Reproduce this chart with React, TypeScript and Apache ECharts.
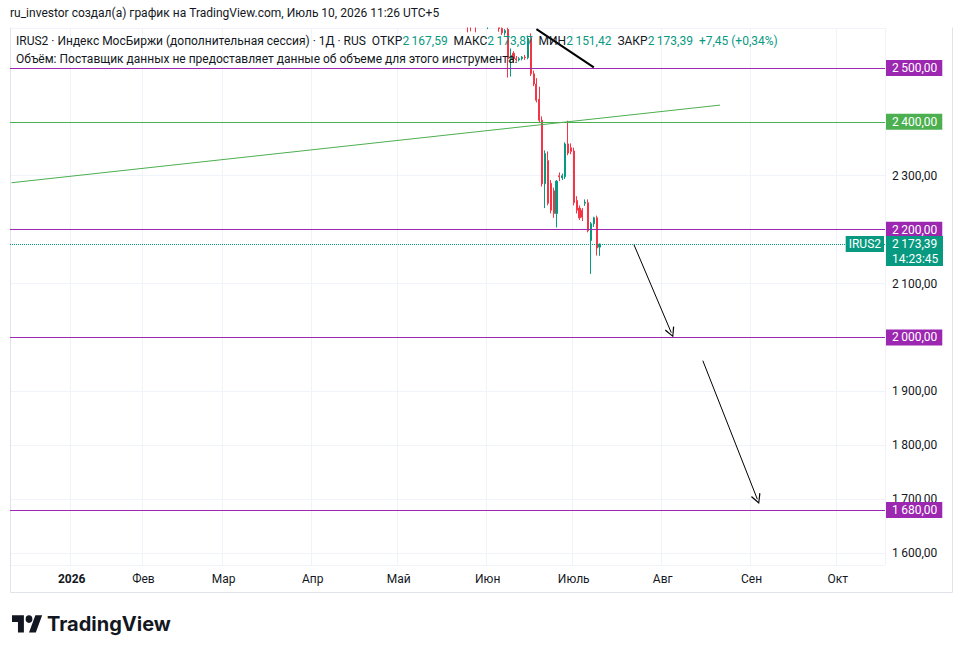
import { useEffect, useRef } from 'react';
import * as echarts from 'echarts';

// ---------- styling constants ----------
const TEXT = '#131722';
const UP = '#089981';
const DOWN = '#f23645';
const PURPLE = '#9c27b0';
const GREEN_LINE = '#4caf50';
const GRID = '#f0f3fa';
const BORDER = '#e0e3eb';
const AXIS_FONT = 'Roboto, "Noto Sans", sans-serif';
const HEAD_FONT = 'Roboto, "Noto Sans", sans-serif';

// ---------- axis / calendar ----------
const MONTH_NAMES = ['Янв', 'Фев', 'Мар', 'Апр', 'Май', 'Июн', 'Июль', 'Авг', 'Сен', 'Окт', 'Ноя', 'Дек'];
const YEAR_LABEL = '2026';
const AXIS_FIRST_DAY = '2025-12-11';
const AXIS_LAST_DAY = '2026-10-17';
const NON_SESSION_DAYS = ['2026-01-01', '2026-01-02', '2026-01-03', '2026-01-04', '2026-01-05', '2026-01-06'];
const Y_MIN = 1578;
const Y_MAX = 2574;
const Y_STEP = 100;

// ---------- candles (IRUS2, 1D) ----------
const candleDates = [
  '2026-05-22', '2026-05-23', '2026-05-24', '2026-05-25', '2026-05-26', '2026-05-27', '2026-05-28', '2026-05-29', '2026-05-30', '2026-05-31',
  '2026-06-01', '2026-06-02', '2026-06-03', '2026-06-04', '2026-06-05', '2026-06-06', '2026-06-07', '2026-06-08', '2026-06-09', '2026-06-10',
  '2026-06-11', '2026-06-12', '2026-06-13', '2026-06-14', '2026-06-15', '2026-06-16', '2026-06-17', '2026-06-18', '2026-06-19', '2026-06-20',
  '2026-06-21', '2026-06-22', '2026-06-23', '2026-06-24', '2026-06-25', '2026-06-26', '2026-06-27', '2026-06-28', '2026-06-29', '2026-06-30',
  '2026-07-01', '2026-07-02', '2026-07-03', '2026-07-04', '2026-07-05', '2026-07-06', '2026-07-07', '2026-07-08', '2026-07-09', '2026-07-10',
];
const opens = [
  2640, 2626, 2606, 2612, 2588, 2584, 2596, 2589, 2586, 2597,
  2586, 2596, 2607, 2602, 2594, 2573, 2565, 2571, 2517, 2527,
  2517, 2515, 2517, 2520, 2519, 2555, 2489, 2470, 2442, 2403,
  2285, 2328, 2286, 2272, 2230, 2300, 2296, 2298, 2359, 2352,
  2346, 2254, 2240, 2236, 2249, 2250, 2180, 2211, 2222, 2167.59,
];
const highs = [
  2652, 2634, 2618, 2620, 2598, 2604, 2603, 2596, 2601, 2607,
  2600, 2612, 2618, 2610, 2600, 2580, 2572, 2575, 2536, 2531,
  2522, 2520, 2522, 2524, 2560, 2564, 2495, 2481, 2465, 2410,
  2347, 2345, 2292, 2278, 2292, 2306, 2304, 2362, 2402, 2360,
  2352, 2262, 2245, 2240, 2256, 2256, 2214, 2224, 2226, 2173.87,
];
const lows = [
  2618, 2600, 2594, 2566, 2568, 2580, 2566, 2580, 2582, 2584,
  2572, 2590, 2596, 2590, 2567, 2561, 2560, 2482, 2484, 2510,
  2512, 2512, 2514, 2515, 2516, 2485, 2466, 2436, 2398, 2280,
  2240, 2245, 2230, 2222, 2204, 2290, 2292, 2294, 2338, 2340,
  2245, 2230, 2218, 2216, 2244, 2195, 2118, 2205, 2152, 2151.42,
];
const closes = [
  2626, 2606, 2612, 2588, 2584, 2596, 2589, 2586, 2597, 2587,
  2596, 2607, 2602, 2594, 2573, 2565, 2569, 2517, 2523, 2517,
  2515, 2517, 2520, 2519, 2555, 2489, 2470, 2440, 2403, 2285,
  2341, 2249, 2236, 2230, 2290, 2298, 2300, 2359, 2342, 2345,
  2250, 2236, 2222, 2223, 2251, 2198, 2211, 2222, 2166, 2173.39,
];
const prevClose = 2165.94;
const countdown = '14:23:45';
const symbolName = 'IRUS2';

// ---------- drawings ----------
const purpleLevels = [2500, 2200, 2000, 1680];
const greenLevel = 2400;
const greenTrend: [string, number][] = [['2025-12-11', 2287], ['2026-08-21', 2431]];
const blackTrend: [string, number][] = [['2026-06-18', 2572], ['2026-07-08', 2501]];
const arrowLines: [string, number][][] = [
  [['2026-07-22', 2172], ['2026-08-04', 2009]],
  [['2026-08-15', 1957], ['2026-09-03', 1700]],
];

// ---------- texts ----------
const authorLine = 'ru_investor создал(а) график на TradingView.com, Июль 10, 2026 11:26 UTC+5';
const titleText = 'IRUS2 · Индекс МосБиржи (дополнительная сессия) · 1Д · RUS';
const volumeText = 'Объём: Поставщик данных не предоставляет данные об объеме для этого инструмента.';

const TV_LOGO_PATH =
  'M14 22H7V11H0V4h14v18zM28 22h-8l7.5-18h8L28 22zM16 8a4 4 0 1 0 8 0a4 4 0 1 0 -8 0z';
echarts.graphic.registerShape('tvlogo', echarts.graphic.extendPath(TV_LOGO_PATH, {}) as any);

function fmt(v: number): string {
  const [i, d] = v.toFixed(2).split('.');
  return i.replace(/\B(?=(\d{3})+(?!\d))/g, '\u2009') + ',' + d;
}
function fmtSigned(v: number): string {
  return (v >= 0 ? '+' : '−') + fmt(Math.abs(v));
}

function buildCategories(): string[] {
  const out: string[] = [];
  const d = new Date(AXIS_FIRST_DAY + 'T00:00:00Z');
  const end = new Date(AXIS_LAST_DAY + 'T00:00:00Z');
  while (d.getTime() <= end.getTime()) {
    const s = d.toISOString().slice(0, 10);
    if (NON_SESSION_DAYS.indexOf(s) < 0) out.push(s);
    d.setUTCDate(d.getUTCDate() + 1);
  }
  return out;
}

export default function App() {
  const ref = useRef<HTMLDivElement>(null);

  useEffect(() => {
    if (!ref.current) return;
    const chart = echarts.init(ref.current, undefined, { renderer: 'svg' });
    const categories = buildCategories();

    const isLabelDay = (value: string, index: number) => {
      if (value.slice(8) === '01') return true;
      const prev = categories[index - 1];
      return index > 0 && !!prev && value.slice(0, 4) !== prev.slice(0, 4);
    };

    const candleData = candleDates.map((d, i) => [d, opens[i], closes[i], lows[i], highs[i]]);
    const n = closes.length;
    const lastClose = closes[n - 1];
    const change = lastClose - prevClose;
    const changePct = (change / prevClose) * 100;

    const tagLabel = (v: number, bg: string) => ({
      show: true,
      position: 'end',
      distance: 1,
      formatter: fmt(v),
      color: '#ffffff',
      backgroundColor: bg,
      padding: [2, 5, 1, 6],
      fontSize: 12,
      lineHeight: 13,
      fontFamily: AXIS_FONT,
    });

    const arrowHead = 'path://M5,0 L10,9 L9,9.8 L5,2.2 L1,9.8 L0,9 Z';

    const markData: any[] = [
      ...purpleLevels.map((v) => ({
        yAxis: v,
        lineStyle: { color: PURPLE, width: 1, type: 'solid' },
        label: tagLabel(v, PURPLE),
      })),
      {
        yAxis: greenLevel,
        lineStyle: { color: GREEN_LINE, width: 1, type: 'solid' },
        label: tagLabel(greenLevel, GREEN_LINE),
      },
      {
        yAxis: lastClose,
        lineStyle: { color: UP, width: 1, type: 'dotted' },
        label: {
          show: true,
          position: 'end',
          distance: 1,
          formatter: '{s| }\n{a|' + fmt(lastClose) + '}\n{b|' + countdown + '}',
          rich: {
            s: { height: 14, lineHeight: 14, fontSize: 12 },
            a: {
              backgroundColor: UP, color: '#fff', fontSize: 12, fontFamily: AXIS_FONT,
              width: 46, height: 16, lineHeight: 16, padding: [0, 5, 0, 6],
            },
            b: {
              backgroundColor: UP, color: '#fff', fontSize: 12, fontFamily: AXIS_FONT,
              width: 46, height: 14, lineHeight: 14, padding: [0, 5, 0, 6],
            },
          },
        },
      },
      {
        yAxis: lastClose,
        lineStyle: { color: 'rgba(0,0,0,0)', width: 1, type: 'solid' },
        label: {
          show: true,
          position: 'insideEnd',
          distance: 1,
          formatter: symbolName,
          color: '#fff',
          backgroundColor: UP,
          padding: [2, 3, 1, 3],
          fontSize: 12,
          lineHeight: 13,
          fontFamily: AXIS_FONT,
        },
      },
      [
        { coord: greenTrend[0], symbol: 'none', lineStyle: { color: GREEN_LINE, width: 1, type: 'solid' }, label: { show: false } },
        { coord: greenTrend[1], symbol: 'none' },
      ],
      [
        { coord: blackTrend[0], symbol: 'none', lineStyle: { color: '#000000', width: 2, type: 'solid' }, label: { show: false } },
        { coord: blackTrend[1], symbol: 'none' },
      ],
      ...arrowLines.map((pts) => [
        { coord: pts[0], symbol: 'none', lineStyle: { color: '#000000', width: 1, type: 'solid' }, label: { show: false } },
        { coord: pts[1], symbol: arrowHead, symbolSize: [10, 10] },
      ]),
    ];

    const option: any = {
      animation: false,
      backgroundColor: '#ffffff',
      grid: { left: 10, right: 76, top: 28, bottom: 89, containLabel: false },
      xAxis: {
        type: 'category',
        data: categories,
        boundaryGap: true,
        axisLine: { show: false },
        axisTick: { show: false },
        axisLabel: {
          interval: (index: number, value: string) => isLabelDay(value, index),
          formatter: (value: string) => {
            const m = parseInt(value.slice(5, 7), 10) - 1;
            if (m === 0) return '{y|' + YEAR_LABEL + '}';
            return MONTH_NAMES[m];
          },
          color: TEXT,
          fontSize: 12,
          fontFamily: AXIS_FONT,
          margin: 8,
          rich: { y: { fontWeight: 'bold', fontSize: 12, color: TEXT, fontFamily: AXIS_FONT } },
        },
        splitLine: {
          show: true,
          interval: (index: number, value: string) => isLabelDay(value, index),
          lineStyle: { color: GRID, width: 1 },
        },
      },
      yAxis: {
        type: 'value',
        position: 'right',
        min: Y_MIN,
        max: Y_MAX,
        splitNumber: 10,
        minInterval: Y_STEP,
        maxInterval: Y_STEP,
        axisLine: { show: false },
        axisTick: { show: false },
        axisLabel: {
          showMinLabel: false,
          showMaxLabel: false,
          formatter: (v: number) => fmt(v),
          color: TEXT,
          fontSize: 12,
          fontFamily: AXIS_FONT,
          margin: 7,
        },
        splitLine: { show: true, lineStyle: { color: GRID, width: 1 } },
      },
      series: [
        {
          type: 'candlestick',
          data: candleData,
          encode: { x: 0, y: [1, 2, 3, 4] },
          barWidth: 1.6,
          clip: true,
          itemStyle: {
            color: UP,
            color0: DOWN,
            borderColor: UP,
            borderColor0: DOWN,
            borderWidth: 1,
          },
          markLine: {
            silent: true,
            animation: false,
            symbol: ['none', 'none'],
            precision: 2,
            data: markData,
          },
        },
      ],
      graphic: [
        {
          // page area above the chart pane: hides the parts of candles above the price scale
          type: 'rect',
          shape: { x: 0, y: 0, width: 961, height: 27.5 },
          style: { fill: '#ffffff' },
          silent: true,
          z: 50,
        },
        {
          type: 'polyline',
          shape: { points: [[10.5, 27], [10.5, 592.5], [952.5, 592.5], [952.5, 27]] },
          style: { fill: 'none', stroke: BORDER, lineWidth: 1 },
          silent: true,
          z: 1,
        },
        {
          type: 'text',
          x: 10,
          y: 13,
          style: { text: authorLine, fill: TEXT, fontSize: 12, fontFamily: HEAD_FONT, verticalAlign: 'middle' },
          z: 100,
        },
        {
          type: 'text',
          x: 16,
          y: 41,
          style: {
            text:
              titleText +
              '  ОТКР{g|' + fmt(opens[n - 1]) + '}  МАКС{g|' + fmt(highs[n - 1]) + '}  МИН{g|' + fmt(lows[n - 1]) +
              '}  ЗАКР{g|' + fmt(lastClose) + '}  {g|' + fmtSigned(change) + ' (' + (changePct >= 0 ? '+' : '') +
              changePct.toFixed(2).replace('.', ',') + '%)}',
            fill: TEXT,
            fontSize: 12,
            fontFamily: HEAD_FONT,
            verticalAlign: 'middle',
            rich: { g: { fill: UP, fontSize: 12, fontFamily: HEAD_FONT } },
          },
          z: 100,
        },
        {
          type: 'text',
          x: 16,
          y: 59,
          style: { text: volumeText, fill: TEXT, fontSize: 12, fontFamily: HEAD_FONT, verticalAlign: 'middle' },
          z: 100,
        },
        {
          type: 'tvlogo',
          x: 12,
          y: 611.5,
          scaleX: 0.85,
          scaleY: 0.95,
          style: { fill: TEXT },
          z: 100,
        },
        {
          type: 'text',
          x: 47,
          y: 624,
          style: {
            text: 'TradingView',
            fill: TEXT,
            fontSize: 20,
            fontWeight: 'bold',
            fontFamily: 'Inter, "Noto Sans", sans-serif',
            verticalAlign: 'middle',
          },
          z: 100,
        },
      ],
    };

    chart.setOption(option);
    return () => chart.dispose();
  }, []);

  return (
    <div
      ref={ref}
      style={{ position: 'absolute', left: 0, top: 0, width: 961, height: 654, background: '#ffffff' }}
    />
  );
}
